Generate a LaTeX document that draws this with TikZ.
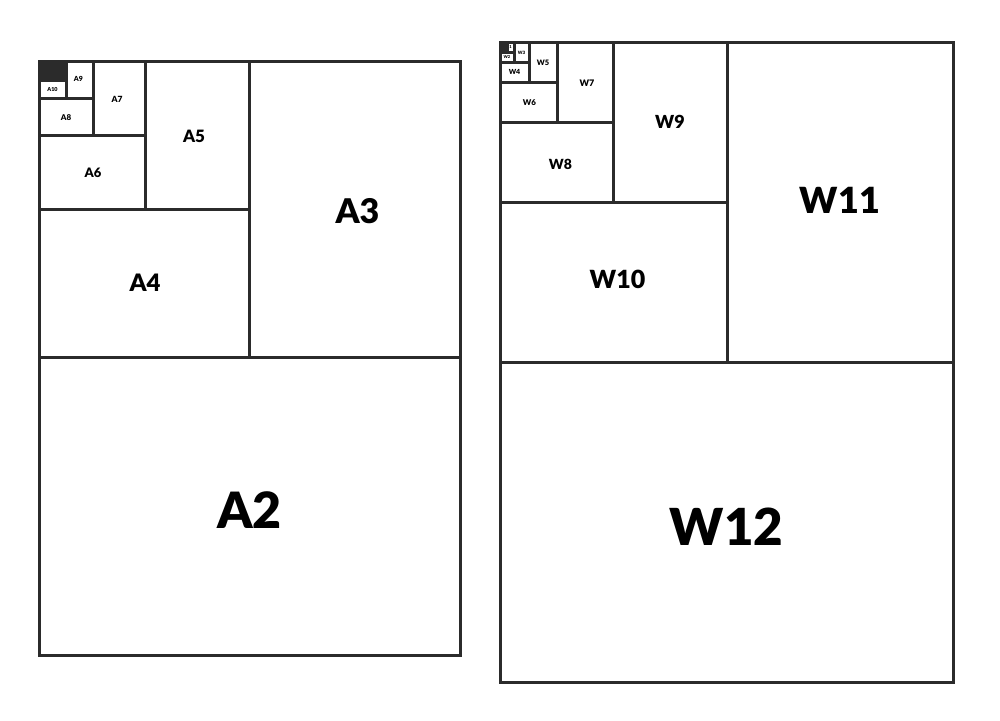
\documentclass[tikz,border=0pt]{standalone}
\usepackage{fontspec}
\setmainfont{Lato}
\newfontfamily\heavyfont{Lato Black}
\definecolor{ink}{HTML}{2B2B2B}
\tikzset{
  cell/.style={draw=ink, line width=3pt, inner sep=0pt, outer sep=0pt, rectangle, text=black},
  darkcell/.style={draw=ink, fill=ink, line width=3pt, inner sep=0pt, outer sep=0pt, rectangle},
}
% #1 name, #2 x1, #3 y1, #4 x2, #5 y2, #6 font size, #7 text, #8 x shift, #9 y shift (down)
\newcommand{\papercell}[9]{%
  \node[cell, minimum width={#4-#2}, minimum height={#5-#3}] (#1) at ({(#2+#4)/2},{(#3+#5)/2}) {};
  \node[inner sep=0pt, font=\fontsize{#6}{#6}\selectfont\heavyfont, text=black]
     (#1-t) at ([xshift=#8pt,yshift=-#9pt]#1.center) {#7};}
\begin{document}
\begin{tikzpicture}[x=1pt,y=-1pt]
\fill[white] (0,0) rectangle (1000,720);
\useasboundingbox (0,0) rectangle (1000,720);
% ---- A series ----
\papercell{A2}{39}{357}{460}{655}{50}{A2}{0}{4}
\papercell{A3}{249}{61}{460}{357}{34}{A3}{3}{2}
\papercell{A4}{39}{209}{249}{357}{24}{A4}{1}{0}
\papercell{A5}{145}{61}{249}{209}{17}{A5}{-3}{1}
\papercell{A6}{39}{135}{145}{209}{13}{A6}{1}{1}
\papercell{A7}{93}{61}{145}{135}{8.5}{A7}{-2}{1}
\papercell{A8}{39}{98}{93}{135}{8}{A8}{0}{1}
\papercell{A9}{66}{61}{93}{98}{7}{A9}{-1}{-1}
\papercell{A10}{39}{80}{66}{98}{5.5}{A10}{0}{0}
\node[darkcell, minimum width=27, minimum height=19] (Adark) at (52.5,70.5) {};
% ---- W series ----
\papercell{W12}{500}{362}{953}{682}{51}{W12}{0}{5}
\papercell{W11}{727}{42}{953}{362}{36}{W11}{0}{-2}
\papercell{W10}{500}{202}{727}{362}{25}{W10}{4}{-3}
\papercell{W9}{613}{42}{727}{202}{18}{W9}{0}{0}
\papercell{W8}{500}{122}{613}{202}{14}{W8}{4}{2}
\papercell{W7}{557}{42}{613}{122}{9}{W7}{2}{1}
\papercell{W6}{500}{82}{557}{122}{8}{W6}{1}{1}
\papercell{W5}{529}{42}{557}{82}{7.5}{W5}{0}{1}
\papercell{W4}{500}{62}{529}{82}{7}{W4}{0}{0}
\papercell{W3}{514}{42}{529}{62}{4.5}{W3}{0}{1}
\papercell{W2}{500}{52}{514}{62}{4}{W2}{0}{0}
\node[darkcell, minimum width=7, minimum height=10] (Wdark) at (503.5,47) {};
\papercell{W1}{507}{42}{514}{52}{4}{1}{0}{0}
\end{tikzpicture}
\end{document}
